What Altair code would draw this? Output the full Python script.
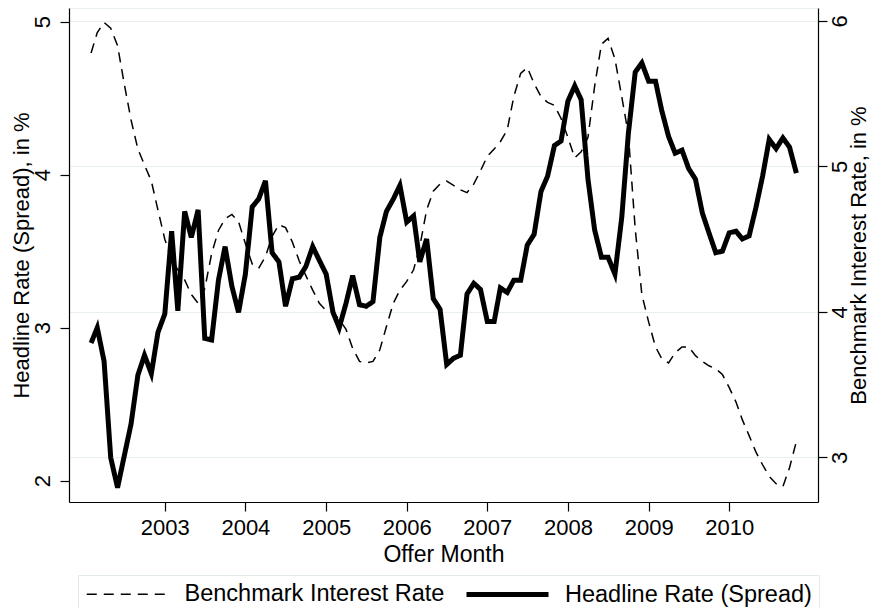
import altair as alt
import pandas as pd

# Monthly observations, 2002m2 .. 2010m11
start_month = "2002-02-01"
n_months = 106

headline = [
    2.90, 3.00, 2.78, 2.15, 1.955, 2.16, 2.37, 2.69, 2.82, 2.70, 2.97,
    3.09, 3.63, 3.11, 3.76, 3.59, 3.77, 2.93, 2.92, 3.31, 3.53, 3.27, 3.10,
    3.35, 3.79, 3.84, 3.96, 3.49, 3.43, 3.14, 3.32, 3.33, 3.40, 3.53, 3.44,
    3.35, 3.10, 3.00, 3.16, 3.34, 3.15, 3.14, 3.17, 3.59, 3.76, 3.84, 3.93,
    3.69, 3.73, 3.43, 3.58, 3.19, 3.12, 2.76, 2.80, 2.82, 3.22, 3.29, 3.25,
    3.04, 3.04, 3.26, 3.23, 3.31, 3.31, 3.54, 3.61, 3.89, 3.99, 4.19, 4.22,
    4.48, 4.58, 4.49, 3.97, 3.64, 3.46, 3.46, 3.35, 3.72, 4.27, 4.67, 4.73,
    4.61, 4.61, 4.42, 4.25, 4.14, 4.16, 4.04, 3.97, 3.75, 3.62, 3.49, 3.50,
    3.62, 3.63, 3.58, 3.60, 3.78, 3.99, 4.23, 4.17, 4.24, 4.18, 4.01,
]

benchmark = [
    5.78, 5.92, 5.99, 5.95, 5.83, 5.57, 5.32, 5.12, 5.01, 4.90, 4.70,
    4.50, 4.36, 4.29, 4.22, 4.12, 4.06, 4.16, 4.40, 4.56, 4.64, 4.67, 4.62,
    4.47, 4.33, 4.30, 4.38, 4.52, 4.60, 4.58, 4.48, 4.35, 4.25, 4.15, 4.06,
    4.01, 4.00, 3.95, 3.88, 3.75, 3.66, 3.65, 3.66, 3.74, 3.90, 4.06, 4.15,
    4.21, 4.29, 4.45, 4.70, 4.83, 4.88, 4.90, 4.87, 4.84, 4.82, 4.88, 4.97,
    5.07, 5.12, 5.17, 5.25, 5.48, 5.64, 5.68, 5.57, 5.48, 5.44, 5.42, 5.33,
    5.20, 5.06, 5.10, 5.20, 5.55, 5.84, 5.88, 5.74, 5.48, 5.22, 4.57, 4.12,
    3.93, 3.76, 3.68, 3.65, 3.72, 3.76, 3.76, 3.70, 3.66, 3.63, 3.61, 3.57,
    3.48, 3.38, 3.26, 3.15, 3.04, 2.95, 2.87, 2.82, 2.80, 2.93, 3.11,
]

series_names = ["Benchmark Interest Rate", "Headline Rate (Spread)"]
year_ticks = [2003, 2004, 2005, 2006, 2007, 2008, 2009, 2010]

months = pd.date_range(start_month, periods=n_months, freq="MS")
df = pd.DataFrame({"month": months, "headline": headline, "benchmark": benchmark})

FONT = "Liberation Sans"
W, H = 749, 494

x_enc = alt.X(
    "month:T",
    title="Offer Month",
    scale=alt.Scale(domain=[alt.DateTime(year=2001, month=10, date=24),
                            alt.DateTime(year=2011, month=2, date=7)], nice=False),
    axis=alt.Axis(
        values=[alt.DateTime(year=y, month=1, date=1) for y in year_ticks],
        format="%Y", grid=False, labelFlush=False, labelOverlap=False,
        labelBaseline="alphabetic", labelPadding=23.5,
        titleBaseline="alphabetic", titleY=59, titleFontSize=23,
    ),
)

legend_opts = dict(
    title=None, orient="none", legendX=9, legendY=567,
    direction="horizontal", symbolType="M-1,0H7.2", symbolSize=400,
    symbolStrokeColor="black", labelFont=FONT, labelFontSize=23.5,
    labelColor="black", labelOffset=76, columnPadding=11, padding=7,
    strokeColor="#e3eaee", labelLimit=400,
)

dash_enc = alt.StrokeDash(
    "series:N",
    scale=alt.Scale(domain=series_names, range=[[10, 7], [1, 0]]),
    legend=alt.Legend(**legend_opts),
)
width_enc = alt.StrokeWidth(
    "series:N",
    scale=alt.Scale(domain=series_names, range=[1.5, 5]),
    legend=alt.Legend(**legend_opts),
)

bench = (
    alt.Chart(df)
    .transform_calculate(series="'Benchmark Interest Rate'")
    .mark_line(color="black", strokeCap="butt")
    .encode(
        x=x_enc,
        y=alt.Y(
            "benchmark:Q",
            title="Benchmark Interest Rate, in %",
            scale=alt.Scale(domain=[2.694, 6.089], nice=False, zero=False),
            axis=alt.Axis(
                orient="right", values=[3, 4, 5, 6], grid=True,
                gridColor="#e8eff2", gridWidth=1.2,
                labelAngle=270, labelAlign="center", labelBaseline="alphabetic",
                labelPadding=19.7, labelFlush=False,
                titleAngle=270, titleAlign="center", titleBaseline="alphabetic",
                titleX=47, titleY=H / 2,
            ),
        ),
        strokeDash=dash_enc,
        strokeWidth=width_enc,
    )
)

head = (
    alt.Chart(df)
    .transform_calculate(series="'Headline Rate (Spread)'")
    .mark_line(color="black", strokeJoin="miter", strokeCap="butt")
    .encode(
        x=x_enc,
        y=alt.Y(
            "headline:Q",
            title="Headline Rate (Spread), in %",
            scale=alt.Scale(domain=[1.861, 5.089], nice=False, zero=False),
            axis=alt.Axis(
                orient="left", values=[2, 3, 4, 5], grid=False,
                labelAngle=270, labelAlign="center", labelBaseline="alphabetic",
                labelPadding=10.3, labelFlush=False,
                titleAngle=270, titleAlign="center", titleBaseline="alphabetic",
                titleX=-41, titleY=H / 2,
            ),
        ),
        strokeDash=dash_enc,
        strokeWidth=width_enc,
    )
)

chart = (
    alt.layer(bench, head)
    .resolve_scale(y="independent")
    .properties(
        width=W, height=H,
        autosize=alt.AutoSizeParams(type="none"),
        padding={"left": 61, "top": 0, "right": 53, "bottom": 106},
        background="white",
    )
    .configure_view(stroke="#e8eff2", strokeWidth=1)
    .configure_axis(
        domainColor="black", domainWidth=1.2, tickColor="black", tickWidth=1.2,
        tickSize=9, labelFont=FONT, labelFontSize=22, labelColor="black",
        titleFont=FONT, titleFontSize=22, titleFontWeight="normal", titleColor="black",
    )
)

chart.save("out.html", embed_options={"renderer": "svg", "actions": False})
